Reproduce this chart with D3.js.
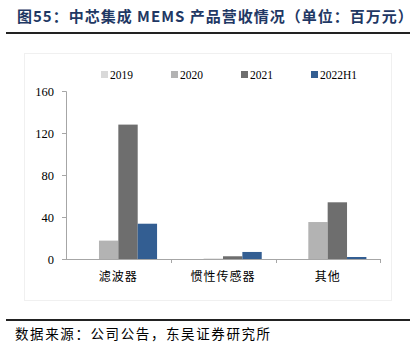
<!DOCTYPE html>
<html><head><meta charset="utf-8">
<script src="https://cdn.jsdelivr.net/npm/d3@7"></script>
<style>body{margin:0;background:#fff;}svg{display:block;}</style>
</head><body>
<script>
const categories = ["滤波器", "惯性传感器", "其他"];
const seriesNames = ["2019", "2020", "2021", "2022H1"];
const v2019 = [0, 0, 0];
const v2020 = [17.5, 0.3, 35.2];
const v2021 = [128, 2.6, 54];
const v2022H1 = [33.6, 6.7, 1.9];
const yTicks = [0, 40, 80, 120, 160];
const colors = ["#d9d9d9", "#b3b3b3", "#6e6e6e", "#335e92"];
const seriesValues = [v2019, v2020, v2021, v2022H1];

const W = 417, H = 355;
const svg = d3.select("body").append("svg").attr("width", W).attr("height", H);

// title
svg.append("text").attr("x", 17).attr("y", 22)
  .attr("font-family", "'Noto Sans CJK SC', 'Liberation Serif', serif")
  .attr("font-weight", "bold").attr("font-size", 15).attr("letter-spacing", 1).attr("fill", "#1f3864")
  .text("图55：中芯集成 MEMS 产品营收情况（单位：百万元）");
svg.append("line").attr("x1", 6).attr("x2", 410).attr("y1", 33).attr("y2", 33)
  .attr("stroke", "#222").attr("stroke-width", 2);

// faint chart frame
svg.append("rect").attr("x", 24.5).attr("y", 53.5).attr("width", 367).attr("height", 247)
  .attr("fill", "none").attr("stroke", "#f0f0f0");

const x0 = d3.scaleBand().domain(categories).range([66, 380]).paddingInner(0.26).paddingOuter(0.13);
const x1 = d3.scaleBand().domain(seriesNames).range([0, x0.bandwidth()]);
const y = d3.scaleLinear().domain([0, 160]).range([259, 91]);

// bars
const g = svg.append("g");
categories.forEach((c, ci) => {
  seriesNames.forEach((s, si) => {
    const v = seriesValues[si][ci];
    g.append("rect")
      .attr("x", x0(c) + x1(s))
      .attr("y", y(v))
      .attr("width", x1.bandwidth())
      .attr("height", y(0) - y(v))
      .attr("fill", colors[si]);
  });
});

// y axis
const yAxis = d3.axisLeft(y).tickValues(yTicks).tickSize(4).tickPadding(8);
const ya = svg.append("g").attr("transform", "translate(66,0)").call(yAxis);
ya.select(".domain").attr("stroke", "#a6a6a6").attr("d", "M-4,91.5H0.5V259.5");
ya.selectAll(".tick line").attr("stroke", "#a6a6a6");
ya.selectAll(".tick text").attr("font-family", "'Liberation Serif', serif").attr("font-size", 12.5).attr("fill", "#000");

// x axis
const xEdge = d3.scaleOrdinal().domain(categories).range([171, 276, 380]);
const xa = svg.append("g");
xa.append("line").attr("x1", 66).attr("x2", 380).attr("y1", 259.5).attr("y2", 259.5).attr("stroke", "#a6a6a6");
categories.forEach(c => {
  xa.append("line").attr("x1", xEdge(c) + 0.5).attr("x2", xEdge(c) + 0.5).attr("y1", 259).attr("y2", 263).attr("stroke", "#a6a6a6");
  xa.append("text").attr("x", x0(c) + x0.bandwidth() / 2).attr("y", 281)
    .attr("text-anchor", "middle").attr("font-family", "'Noto Sans CJK SC', sans-serif")
    .attr("font-size", 12).attr("letter-spacing", 1).attr("fill", "#000").text(c);
});

// legend
const lg = svg.append("g");
seriesNames.forEach((s, i) => {
  const lx = 101 + i * 70;
  lg.append("rect").attr("x", lx).attr("y", 71).attr("width", 7).attr("height", 7).attr("fill", colors[i]);
  lg.append("text").attr("x", lx + 9).attr("y", 79).attr("font-family", "'Liberation Serif', serif")
    .attr("font-size", 11.5).attr("fill", "#000").text(s);
});

// source
svg.append("line").attr("x1", 6).attr("x2", 410).attr("y1", 320).attr("y2", 320)
  .attr("stroke", "#222").attr("stroke-width", 2);
svg.append("text").attr("x", 15).attr("y", 339)
  .attr("font-family", "'Noto Sans CJK SC', sans-serif").attr("font-size", 13.5).attr("letter-spacing", 1.6)
  .attr("fill", "#000").text("数据来源：公司公告，东吴证券研究所");
</script>
</body></html>
